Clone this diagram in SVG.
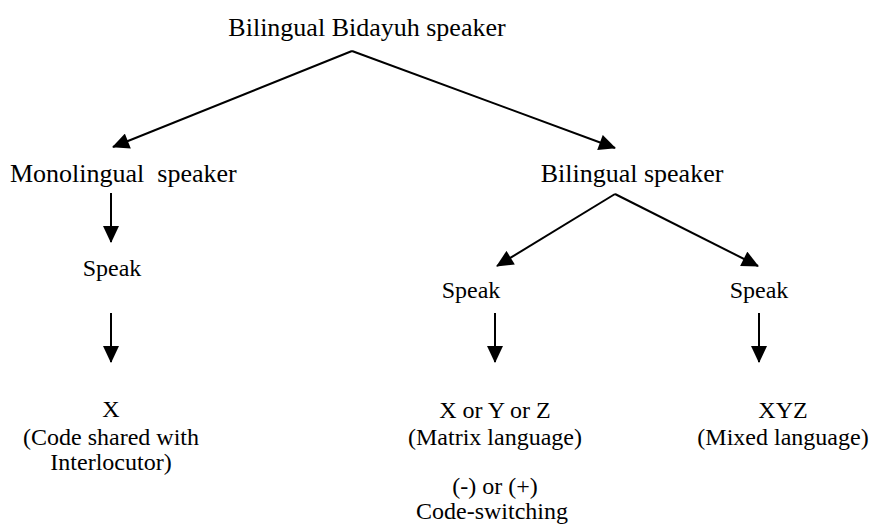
<svg xmlns="http://www.w3.org/2000/svg" width="870" height="531" viewBox="0 0 870 531">
<defs>
<style>
.t{font-family:'Liberation Serif','Times New Roman',Times,serif;fill:#000;text-anchor:middle}
.big{font-size:26px}
.mid{font-size:24px}
.sm{font-size:24px}
.ln{stroke:#000;stroke-width:2;fill:none}
</style>
<marker id="ah" markerUnits="userSpaceOnUse" markerWidth="18" markerHeight="16" viewBox="0 0 17 16" refX="16" refY="8" orient="auto">
<path d="M0,0 L17,8 L0,16 z" fill="#000"/>
</marker>
</defs>
<rect width="870" height="531" fill="#fff"/>
<g id="connectors">
<line class="ln" x1="352" y1="51" x2="113" y2="147" marker-end="url(#ah)"/>
<line class="ln" x1="352" y1="51" x2="615" y2="148" marker-end="url(#ah)"/>
<line class="ln" x1="111" y1="193" x2="111" y2="242" marker-end="url(#ah)"/>
<line class="ln" x1="111" y1="313" x2="111" y2="362" marker-end="url(#ah)"/>
<line class="ln" x1="615" y1="194" x2="497" y2="266" marker-end="url(#ah)"/>
<line class="ln" x1="615" y1="194" x2="758" y2="266" marker-end="url(#ah)"/>
<line class="ln" x1="495" y1="313" x2="495" y2="362" marker-end="url(#ah)"/>
<line class="ln" x1="759" y1="313" x2="759" y2="362" marker-end="url(#ah)"/>
</g>
<g font-family="Liberation Serif, Times New Roman, serif">
<g id="root"><text class="t big" x="367" y="36">Bilingual Bidayuh speaker</text></g>
<g id="mono"><text class="t big" x="10" y="182" style="text-anchor:start" xml:space="preserve">Monolingual  speaker</text></g>
<g id="bi"><text class="t big" x="632" y="182">Bilingual speaker</text></g>
<g id="speak1"><text class="t mid" x="112" y="276">Speak</text></g>
<g id="speak2"><text class="t mid" x="471" y="298">Speak</text></g>
<g id="speak3"><text class="t mid" x="759" y="298">Speak</text></g>
<g id="outX">
<text class="t sm" x="111" y="417">X</text>
<text class="t sm" x="111" y="445">(Code shared with</text>
<text class="t sm" x="111" y="470">Interlocutor)</text>
</g>
<g id="outXYZor">
<text class="t sm" x="495" y="418">X or Y or Z</text>
<text class="t sm" x="495" y="445">(Matrix language)</text>
<text class="t sm" x="495" y="494">(-) or (+)</text>
<text class="t sm" x="492" y="519">Code-switching</text>
</g>
<g id="outXYZ">
<text class="t sm" x="783" y="418">XYZ</text>
<text class="t sm" x="783" y="445">(Mixed language)</text>
</g>
</g>
</svg>
